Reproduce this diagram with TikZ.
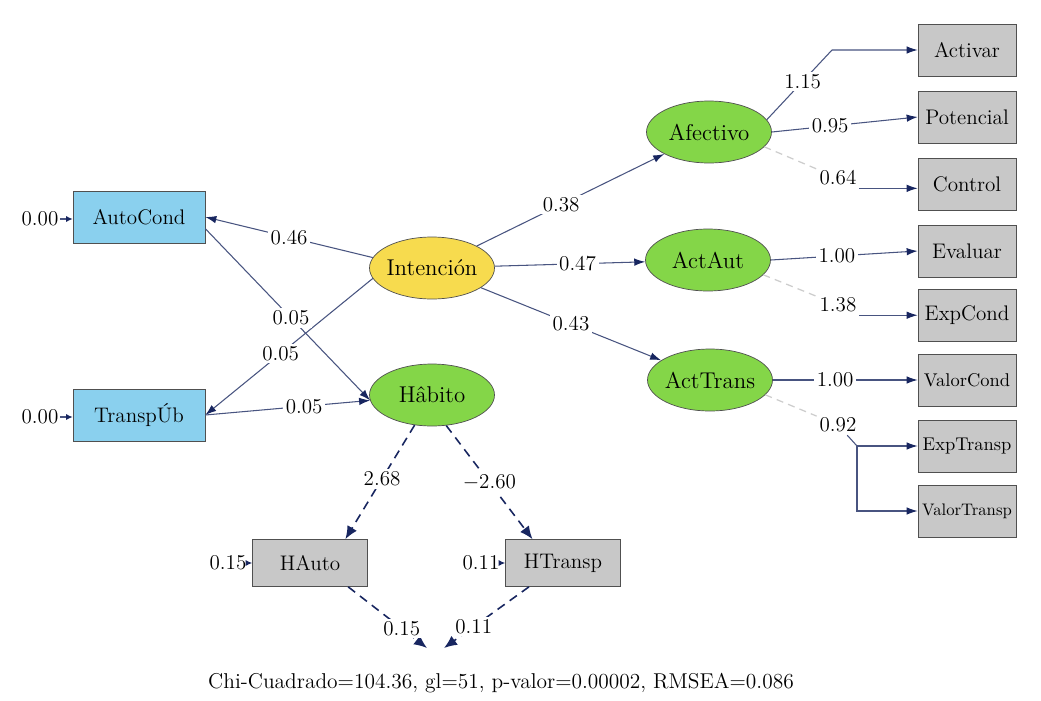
\documentclass[tikz,border=0pt]{standalone}
\usepackage{tikz}
\usetikzlibrary{arrows.meta,shapes.geometric}

\definecolor{linea}{RGB}{72,84,128}
\definecolor{punta}{RGB}{24,38,96}
\definecolor{borde}{RGB}{80,80,80}
\definecolor{azul}{RGB}{138,208,238}
\definecolor{amarillo}{RGB}{247,219,78}
\definecolor{verde}{RGB}{132,214,72}
\definecolor{gris}{RGB}{200,200,200}
\definecolor{tenuegris}{RGB}{205,205,205}

\begin{document}
\begin{tikzpicture}[x=0.02cm,y=-0.02cm,
			every node/.style={font=\fontsize{12}{14}\selectfont},
			medida/.style={rectangle,draw=borde,fill=gris,minimum width=1.96cm,minimum height=1.04cm,inner sep=1pt},
			exogena/.style={rectangle,draw=borde,fill=azul,minimum width=2.64cm,minimum height=1.04cm},
			latente/.style={ellipse,draw=borde,fill=verde,minimum width=2.5cm,minimum height=1.24cm,inner xsep=-4pt,font=\fontsize{13}{15}\selectfont},
			rotulo/.style={fill=white,inner sep=1.5pt},
			flecha/.style={draw=linea,line width=0.6pt,-{Latex[length=2.2mm,width=1.5mm,color=punta]}},
			corta/.style={draw=linea,line width=0.6pt,-{Latex[length=1.3mm,width=1.2mm,color=punta]}},
			guion/.style={draw=punta,line width=0.9pt,dash pattern=on 5pt off 3.5pt,-{Latex[length=2.6mm,width=2.2mm]}},
			tenue/.style={draw=tenuegris,line width=0.7pt,dash pattern=on 4pt off 3pt}]
			
			\fill[white] (0,0) rectangle (1041,700);
			\useasboundingbox (0,0) rectangle (1041,700);
			
			% Exogenous observed variables with their residuals
			\foreach \i/\yy/\lbl in {auto/217/AutoCond,tra/415/TranspÚb}{
				\node[exogena] (\i) at (139,\yy) {\lbl};
				\node[inner sep=1pt] (r\i) at (40,\yy+2) {0.00};
				\draw[corta] (r\i.east) -- (r\i.east -| \i.west);
			}
			
			% Latent factors
			\node[latente,fill=amarillo] (int) at (432,268) {Intención};
			\node[latente] (hab) at (432,395) {Hâbito};
			\node[latente] (afe) at (709,132) {Afectivo};
			\node[latente] (aut) at (708,260) {ActAut};
			\node[latente] (atr) at (710,380) {ActTrans};
			
			% Indicators on the right
			\foreach \i/\yy/\lbl in {act/50/Activar,pot/117/Potencial,ctl/184/Control,eva/251/Evaluar,exc/315/ExpCond}{
				\node[medida] (\i) at (967,\yy) {\lbl};
			}
			\foreach \i/\yy/\lbl in {vco/380/ValorCond,etr/446/ExpTransp}{
				\node[medida,font=\fontsize{10.5}{12}\selectfont] (\i) at (967,\yy) {\lbl};
			}
			\node[medida,font=\fontsize{9.5}{11}\selectfont] (vtr) at (967,511) {ValorTransp};
			
			% Habit indicators
			\node[medida,minimum width=2.3cm,minimum height=0.94cm] (hau) at (310,563) {HAuto};
			\node[medida,minimum width=2.3cm,minimum height=0.94cm] (htr) at (563,563) {HTransp};
			\node[inner sep=1pt] (rhau) at (228,563) {0.15};
			\node[inner sep=1pt] (rhtr) at (481,563) {0.11};
			\draw[corta] (rhau.east) -- (rhau.east -| hau.west);
			\draw[corta] (rhtr.east) -- (rhtr.east -| htr.west);
			
			% Paths out of Intención
			\draw[flecha] (int) -- node[rotulo,pos=.45]{0.38} (afe);
			\draw[flecha] (int) -- node[rotulo,pos=.55]{0.47} (aut);
			\draw[flecha] (int) -- node[rotulo,pos=.5]{0.43} (atr);
			\draw[flecha] (int.170) -- node[rotulo,pos=.5]{0.46} (auto.east);
			\draw[flecha] (int.190) -- node[rotulo,pos=.55]{0.05} (tra.east);
			
			% Paths into Hâbito
			\draw[flecha] (auto.-10) -- node[rotulo,pos=.52]{0.05} (hab.185);
			\draw[flecha] (tra.east) -- node[rotulo,pos=.6]{0.05} (hab.185);
			
			% Loadings of Afectivo
			\coordinate (q1) at (832,50);
			\draw[flecha] (afe.12) -- node[rotulo,pos=.55]{1.15} (q1) -- (act.west);
			\draw[flecha] (afe.east) -- node[rotulo,pos=.4]{0.95} (pot.west);
			\node[rotulo] (l064) at (838,178) {0.64};
			\draw[tenue] (afe.-15) -- (l064);
			\draw[flecha] (l064.south east) -- (l064.south east -| ctl.west);
			
			% Loadings of ActAut
			\draw[flecha] (aut.east) -- node[rotulo,pos=.45]{1.00} (eva.west);
			\node[rotulo] (l138) at (838,305) {1.38};
			\draw[tenue] (aut.-15) -- (l138);
			\draw[flecha] (l138.south east) -- (l138.south east -| exc.west);
			
			% Loadings of ActTrans
			\draw[flecha] (atr.east) -- node[rotulo,pos=.43]{1.00} (vco.west);
			\node[rotulo] (l092) at (838,425) {0.92};
			\coordinate (rama) at (857,446);
			\draw[tenue] (atr.-15) -- (l092);
			\draw[draw=linea,line width=0.6pt] (l092) -- (rama);
			\draw[flecha] (rama) -- (etr.west);
			\draw[flecha] (rama) |- (vtr.west);
			
			% Loadings of Hâbito (dashed)
			\draw[guion] (hab.240) -- node[rotulo,pos=.47]{2.68} (hau.34);
			\draw[guion] (hab.295) -- node[rotulo,pos=.5]{$-$2.60} (htr.142);
			
			% Error terms of the habit indicators
			\coordinate (fin1) at (427,648);
			\coordinate (fin2) at (444,648);
			\draw[guion] (hau.-32) -- node[rotulo,pos=.68]{0.15} (fin1);
			\draw[guion] (htr.215) -- node[rotulo,pos=.65]{0.11} (fin2);
			
			% Fit indices
			\node[font=\fontsize{12.2}{14}\selectfont] (ajuste) at (501,683) {Chi-Cuadrado=104.36, gl=51, p-valor=0.00002, RMSEA=0.086};
			
		\end{tikzpicture}
\end{document}
